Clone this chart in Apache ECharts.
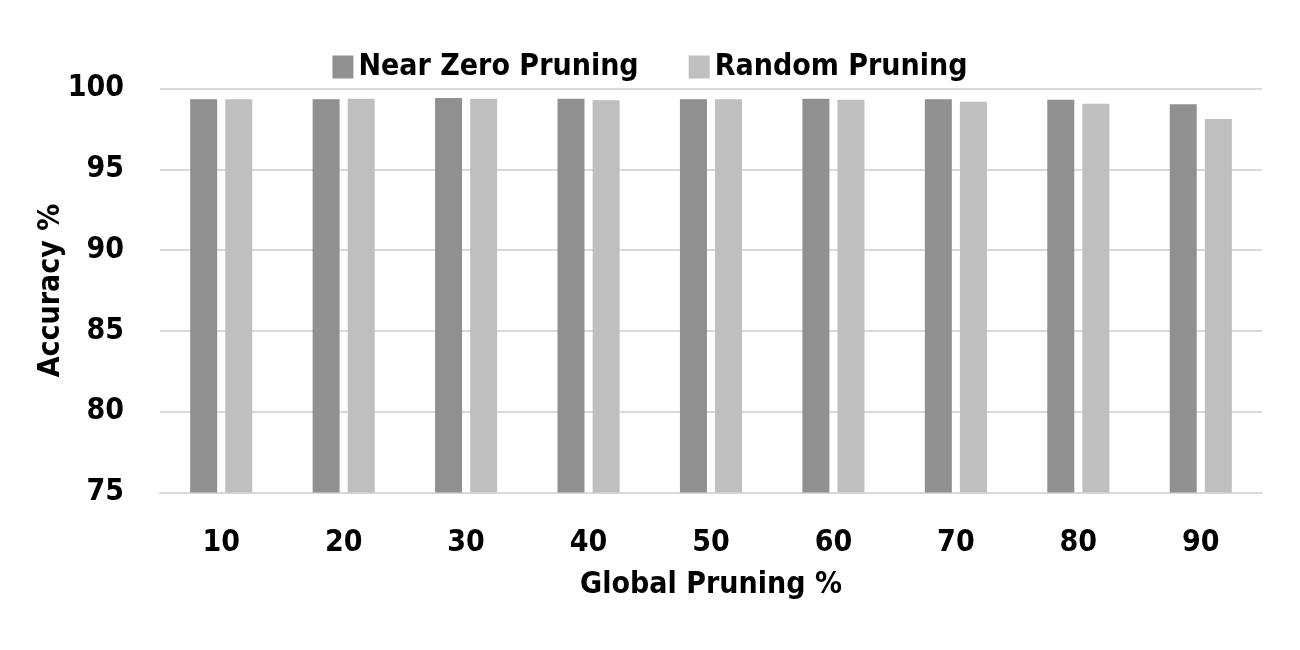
<!DOCTYPE html>
<html>
<head>
<meta charset="utf-8">
<title>Accuracy vs Global Pruning</title>
<script src="https://cdn.jsdelivr.net/npm/echarts@6/dist/echarts.min.js"></script>
<style>
  html, body { margin: 0; padding: 0; background: #fff; }
  #chart { width: 1300px; height: 650px; }
</style>
</head>
<body>
<div id="chart"></div>
<script>
  // data
  var categories = ['10', '20', '30', '40', '50', '60', '70', '80', '90'];
  var nearZero = [99.33, 99.33, 99.41, 99.37, 99.33, 99.37, 99.33, 99.31, 99.02];
  var randomPr = [99.33, 99.37, 99.37, 99.27, 99.33, 99.31, 99.18, 99.06, 98.11];

  var font = '"Liberation Sans Narrow", "DejaVu Sans Condensed", sans-serif';

  var chart = echarts.init(document.getElementById('chart'));
  var option = {
    backgroundColor: '#fff',
    animation: false,
    textStyle: { fontFamily: font, fontWeight: 'bold', color: '#000' },
    legend: {
      top: 47,
      left: 'center',
      itemWidth: 21,
      itemHeight: 23,
      itemGap: 50,
      icon: 'rect',
      textStyle: { fontFamily: font, fontWeight: 'bold', fontSize: 30, color: '#000' },
      data: ['Near Zero Pruning', 'Random Pruning']
    },
    grid: { left: 160, right: 38, top: 88.5, bottom: 157.5, containLabel: false },
    xAxis: {
      type: 'category',
      data: categories,
      name: 'Global Pruning %',
      nameLocation: 'middle',
      nameGap: 78,
      nameMoveOverlap: false,
      nameTextStyle: { fontFamily: font, fontWeight: 'bold', fontSize: 30, color: '#000' },
      axisLine: { lineStyle: { color: '#d9d9d9', width: 2 } },
      axisTick: { show: false },
      axisLabel: { fontFamily: font, fontWeight: 'bold', fontSize: 30, color: '#000', margin: 36 }
    },
    yAxis: {
      type: 'value',
      min: 75,
      max: 100,
      interval: 5,
      name: 'Accuracy %',
      nameLocation: 'middle',
      nameGap: 94,
      nameMoveOverlap: false,
      nameTextStyle: { fontFamily: font, fontWeight: 'bold', fontSize: 30, color: '#000' },
      axisLine: { show: false },
      axisTick: { show: false },
      splitLine: { lineStyle: { color: '#d9d9d9', width: 2 } },
      axisLabel: { fontFamily: font, fontWeight: 'bold', fontSize: 30, color: '#000', margin: 36 }
    },
    series: [
      {
        name: 'Near Zero Pruning',
        type: 'bar',
        data: nearZero,
        barWidth: 27,
        barGap: '30%',
        itemStyle: { color: '#909090' }
      },
      {
        name: 'Random Pruning',
        type: 'bar',
        data: randomPr,
        barWidth: 27,
        barGap: '30%',
        itemStyle: { color: '#bfbfbf' }
      }
    ]
  };
  chart.setOption(option);
</script>
</body>
</html>
